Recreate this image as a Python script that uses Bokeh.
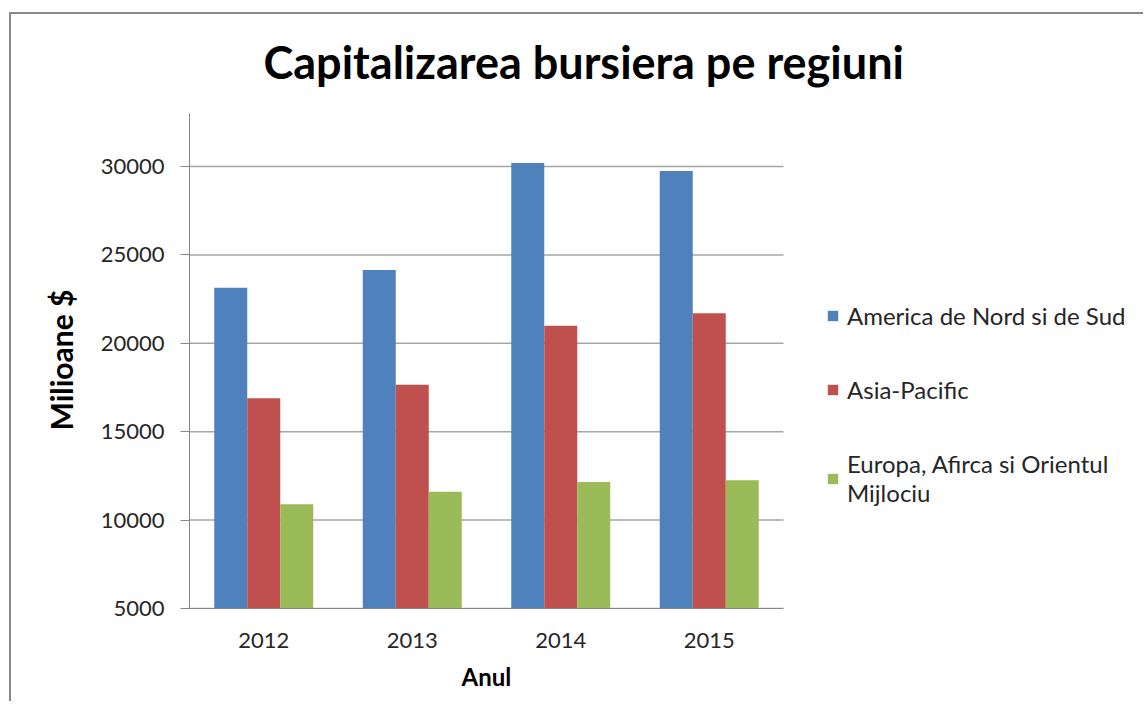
from bokeh.plotting import figure
from bokeh.models import Range1d, FixedTicker, Legend, LegendItem, ColumnDataSource, Title, Label
from bokeh.embed import file_html
from bokeh.resources import INLINE

years = ["2012", "2013", "2014", "2015"]
america = [23150, 24150, 30200, 29750]
asia = [16900, 17650, 21000, 21700]
europa = [10900, 11600, 12150, 12250]
series_names = ["America de Nord si de Sud", "Asia-Pacific", "Europa, Afirca si Orientul\nMijlociu"]
colors = ["#4F81BD", "#C0504D", "#9BBB59"]
y_ticks = [5000, 10000, 15000, 20000, 25000, 30000]
chart_title = "Capitalizarea bursiera pe regiuni"
x_title = "Anul"
y_title = "Milioane $"

pos = list(range(1, len(years) + 1))
src = ColumnDataSource(dict(pos=pos, america=america, asia=asia, europa=europa))

W, H = 1134, 689
FL, FR = 178, W - 4            # frame left / right (canvas px)
FB = 594                       # frame bottom (canvas px)
unit = 148.5                   # px per category
x0 = 0.5
x1 = x0 + (FR - FL) / unit
ymin, ymax = 5000, 33000
axis_px = 495                  # pixel height of the value axis
ytop = ymin + (ymax - ymin) * FB / axis_px

p = figure(x_range=Range1d(x0, x1), y_range=Range1d(ymin, ytop),
           width=W, height=H, output_backend="svg", toolbar_location=None,
           min_border_left=FL, min_border_right=W - FR, min_border_top=0, min_border_bottom=H - FB)
p.margin = (12, 0, 0, 9)
p.styles = {"border-left": "2px solid #878787", "border-top": "2px solid #878787"}
p.outline_line_color = None
p.background_fill_color = "white"
p.border_fill_color = "white"

# gridlines restricted to the category area
p.xgrid.grid_line_color = None
p.ygrid.grid_line_color = None
p.segment(x0=[0.5] * len(y_ticks), x1=[len(years) + 0.5] * len(y_ticks), y0=y_ticks, y1=y_ticks,
          line_color="#A6A6A6", line_width=1.5)

bw = 33 / 148.5
renderers = []
for col, off, c in zip(["america", "asia", "europa"], [-bw, 0, bw], colors):
    r = p.vbar(x=[v + off for v in pos], top=src.data[col], bottom=ymin, width=bw,
               fill_color=c, line_color=None)
    renderers.append(r)

# main title
p.add_layout(Label(x=74, y=547, x_units="screen", y_units="screen", text=chart_title,
                   text_font="Lato", text_font_style="bold", text_font_size="45px",
                   text_color="black", text_baseline="alphabetic", text_align="left"))

p.yaxis.ticker = FixedTicker(ticks=y_ticks)
p.yaxis.bounds = (ymin, ymax)
p.yaxis.major_label_text_font = "Lato"
p.yaxis.major_label_text_font_size = "22px"
p.yaxis.major_label_text_color = "#262626"
p.yaxis.major_label_standoff = 16
p.yaxis.major_tick_out = 9
p.yaxis.major_tick_in = 0
p.yaxis.minor_tick_out = 0
p.yaxis.minor_tick_in = 0
p.yaxis.axis_line_color = "#878787"
p.yaxis.major_tick_line_color = "#878787"

p.xaxis.ticker = FixedTicker(ticks=pos)
p.xaxis.major_label_overrides = {k: y for k, y in zip(pos, years)}
p.xaxis.bounds = (0.5, len(years) + 0.5)
p.xaxis.major_label_text_font = "Lato"
p.xaxis.major_label_text_font_size = "22px"
p.xaxis.major_label_text_color = "#262626"
p.xaxis.major_label_standoff = 24
p.xaxis.major_tick_out = 0
p.xaxis.major_tick_in = 0
p.xaxis.minor_tick_out = 0
p.xaxis.minor_tick_in = 0
p.xaxis.axis_line_color = "#878787"

p.add_layout(Title(text=x_title, align="left", offset=272, vertical_align="top", standoff=22,
                   text_font="Lato", text_font_style="bold", text_font_size="24px",
                   text_color="black"), "below")
p.add_layout(Title(text=y_title, align="left", offset=178, vertical_align="bottom", standoff=38,
                   text_font="Lato", text_font_style="bold", text_font_size="30px",
                   text_color="black"), "left")

items = [LegendItem(label=n, renderers=[r]) for n, r in zip(series_names, renderers)]
legend = Legend(items=items, location=(637, 101), padding=0, margin=0, spacing=45,
                glyph_width=13, glyph_height=13, label_text_font="Lato",
                label_text_font_size="24px", label_text_color="#262626",
                border_line_color=None, background_fill_alpha=0, label_standoff=8)
p.add_layout(legend, "center")

open("out.html", "w").write(file_html(p, INLINE))
